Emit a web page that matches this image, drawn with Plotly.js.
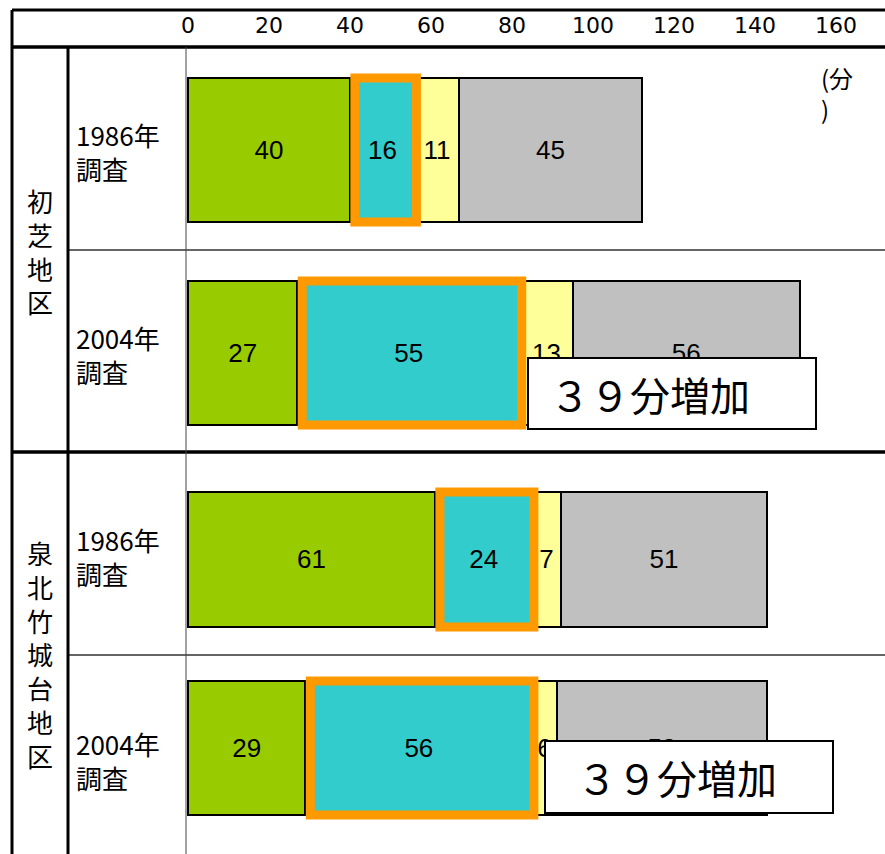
<!DOCTYPE html>
<html><head><meta charset="utf-8">
<script src="https://cdn.plot.ly/plotly-3.0.1.min.js"></script>
<style>html,body{margin:0;padding:0;background:#fff}</style>
</head><body><div id="chart" style="width:885px;height:854px"></div>
<script>
// ---- data ----
const regions = ["初芝地区", "泉北竹城台地区"];
const surveyYears = ["1986年", "2004年"];
const surveyWord = "調査";
const categories = ["初芝地区 1986年調査", "初芝地区 2004年調査", "泉北竹城台地区 1986年調査", "泉北竹城台地区 2004年調査"];
const seriesNames = ["区分1", "区分2", "区分3", "区分4"];
const greenValues = [40, 27, 61, 29];
const cyanValues = [16, 55, 24, 56];
const yellowValues = [11, 13, 7, 6];
const greyValues = [45, 56, 51, 52];
const tickValues = [0, 20, 40, 60, 80, 100, 120, 140, 160];
const unitLabel = "(分<br>)";
const increaseLabel = "３９分増加";

// ---- styling / layout helpers ----
const W = 885, H = 854, L = 186, T = 47;
const PW = W - L, PH = H - T;
const px = x => (x - L) / PW;
const py = y => (H - y) / PH;
const barWidths = [0.714, 0.714, 0.669, 0.664];
const barOffsets = [-0.3465, -0.340, -0.2945, -0.357];
const colors = ["#99CC00", "#33CCCC", "#FFFF99", "#C0C0C0"];
const allSeries = [greenValues, cyanValues, yellowValues, greyValues];
const JP = "Noto Sans CJK JP";

const traces = allSeries.map((vals, k) => ({
  type: "bar", orientation: "h", name: seriesNames[k],
  y: categories, x: vals, text: vals.map(String),
  textposition: "inside", insidetextanchor: "middle", textangle: 0, constraintext: "none",
  textfont: {family: "Liberation Sans, Arial", size: 26, color: "#000"},
  insidetextfont: {family: "Liberation Sans, Arial", size: 26, color: "#000"},
  marker: {color: colors[k], line: {color: "#000", width: 2}},
  width: barWidths, offset: barOffsets,
  hoverinfo: "skip", showlegend: false
}));

const shapes = [];
const hline = (y, x0, x1, w, c) => shapes.push({type: "line", xref: "paper", yref: "paper", x0: px(x0), x1: px(x1), y0: py(y), y1: py(y), line: {color: c || "#000", width: w}});
const vline = (x, y0, y1, w, c) => shapes.push({type: "line", xref: "paper", yref: "paper", x0: px(x), x1: px(x), y0: py(y0), y1: py(y1), line: {color: c || "#000", width: w}});
hline(10, 12, 885, 3);
hline(47, 12, 885, 3.5);
hline(452, 12, 885, 3.5);
hline(250, 68, 885, 1.5, "#333");
hline(655, 68, 885, 1.5, "#333");
vline(12, 10, 854, 3);
vline(68, 47, 854, 3);
vline(186, 47, 854, 1, "#444");

// orange highlight boxes round the cyan segments
categories.forEach((c, i) => {
  const y0 = i + barOffsets[i];
  shapes.push({type: "rect", xref: "x", yref: "y",
    x0: greenValues[i] + 1.2, x1: greenValues[i] + cyanValues[i] + 0.4,
    y0: y0, y1: y0 + barWidths[i],
    line: {color: "#FF9900", width: 9}, fillcolor: "rgba(0,0,0,0)"});
});

// callout boxes
const boxes = [{x0: 528, x1: 816, y0: 358, y1: 429, tx: 548, ty: 394}, {x0: 545, x1: 833, y0: 741, y1: 813, tx: 575, ty: 777}];
boxes.forEach(b => shapes.push({type: "rect", xref: "paper", yref: "paper",
  x0: px(b.x0), x1: px(b.x1), y0: py(b.y1), y1: py(b.y0),
  fillcolor: "#fff", line: {color: "#000", width: 2}}));

const annotations = [];
boxes.forEach(b => annotations.push({xref: "paper", yref: "paper", x: px(b.tx), y: py(b.ty),
  xanchor: "left", yanchor: "middle", showarrow: false, text: increaseLabel,
  font: {family: JP, size: 40, color: "#000"}}));

// year labels
const yearCenters = [151, 354, 556, 760];
categories.forEach((c, i) => {
  annotations.push({xref: "paper", yref: "paper", x: px(74), y: py(yearCenters[i]), xanchor: "left", yanchor: "middle",
    align: "left", showarrow: false, text: surveyYears[i % 2] + "<br>" + surveyWord,
    font: {family: JP, size: 26, color: "#000"}});
});
// region labels (vertical)
const regionCenters = [250.5, 654];
regions.forEach((r, i) => annotations.push({xref: "paper", yref: "paper", x: px(40), y: py(regionCenters[i]),
  xanchor: "center", yanchor: "middle", showarrow: false, text: r.split("").join("<br>"),
  font: {family: JP, size: 26, color: "#000"}}));
// unit
annotations.push({xref: "paper", yref: "paper", x: px(819), y: py(93), xanchor: "left", yanchor: "middle", align: "left",
  showarrow: false, text: unitLabel, font: {family: JP, size: 24, color: "#000"}});

const layout = {
  width: W, height: H, margin: {l: L, r: 0, t: T, b: 0, pad: 0},
  paper_bgcolor: "#fff", plot_bgcolor: "#fff", barmode: "stack", showlegend: false,
  xaxis: {side: "top", range: [-0.5, 172.1], tickmode: "array", tickvals: tickValues, ticktext: tickValues.map(String),
    showgrid: false, zeroline: false, showline: false, ticks: "", ticklabelstandoff: 9,
    tickfont: {family: "DejaVu Sans", size: 22, color: "#000"}, fixedrange: true},
  yaxis: {type: "category", categoryorder: "array", categoryarray: categories, range: [3.5, -0.5],
    showticklabels: false, showgrid: false, zeroline: false, ticks: "", fixedrange: true},
  shapes: shapes, annotations: annotations
};
Plotly.newPlot("chart", traces, layout, {displayModeBar: false, staticPlot: true});
</script>
</body></html>
